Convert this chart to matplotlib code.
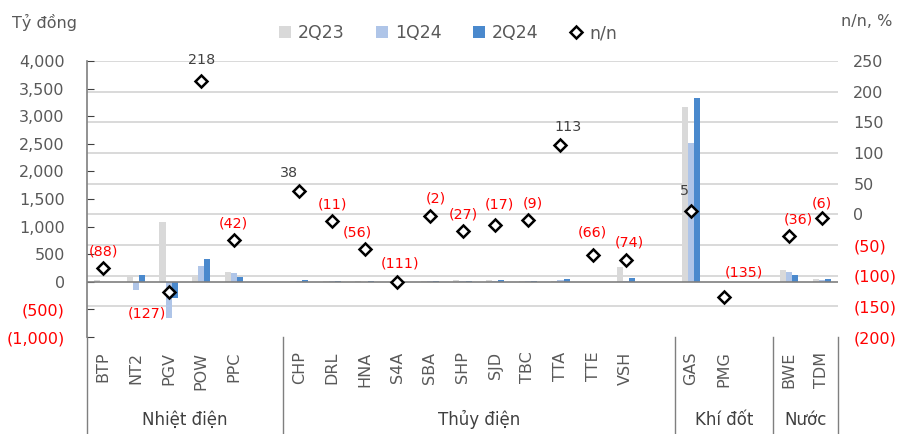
import numpy as np
import matplotlib
matplotlib.use("Agg")
import matplotlib.pyplot as plt
from matplotlib.patches import Patch
from matplotlib.lines import Line2D
from matplotlib.transforms import blended_transform_factory

# ---------------- data ----------------
tickers = ['BTP', 'NT2', 'PGV', 'POW', 'PPC',
           'CHP', 'DRL', 'HNA', 'S4A', 'SBA', 'SHP', 'SJD', 'TBC', 'TTA', 'TTE', 'VSH',
           'GAS', 'PMG',
           'BWE', 'TDM']
groups = ['Nhiệt điện'] * 5 + ['Thủy điện'] * 11 + ['Khí đốt'] * 2 + ['Nước'] * 2
q2_23 = [30, 130, 1090, 125, 170, 20, 10, 15, 5, 20, 30, 30, 15, 20, 5, 270, 3165, 5, 205, 50]
q1_24 = [5, -155, -650, 280, 160, 15, 10, 5, 5, 15, 20, 15, 20, 25, 5, 10, 2520, 5, 175, 38]
q2_24 = [4, 125, -285, 405, 95, 30, 9, 7, -1, 20, 22, 25, 14, 45, 2, 70, 3330, -2, 130, 47]
yoy = [-88, np.nan, -127, 218, -42, 38, -11, -56, -111, -2, -27, -17, -9, 113, -66, -74, 5, -135, -36, -6]
series_names = ['2Q23', '1Q24', '2Q24', 'n/n']
left_ticks = [-1000, -500, 0, 500, 1000, 1500, 2000, 2500, 3000, 3500, 4000]
right_ticks = [-200, -150, -100, -50, 0, 50, 100, 150, 200, 250]

# label offsets (pixels) for n/n data labels
label_off = {'BTP': (0, 17), 'PGV': (-22, -21), 'POW': (0, 21), 'PPC': (-1, 17),
             'CHP': (-10, 18), 'DRL': (1, 17), 'HNA': (-7, 16), 'S4A': (3, 19),
             'SBA': (6, 17), 'SHP': (1, 16), 'SJD': (4, 20), 'TBC': (5, 16),
             'TTA': (8, 18), 'TTE': (-1, 22), 'VSH': (4, 17), 'GAS': (-7, 20),
             'PMG': (20, 25), 'BWE': (9, 17), 'TDM': (0, 15)}

# ---------------- layout: slots with a blank after each group except last ----
pos = []
boundaries = [-0.5]
slot = 0
for i, g in enumerate(groups):
    if i > 0 and g != groups[i - 1]:
        slot += 1  # blank slot belongs to previous group
        boundaries.append(slot - 0.5)
    pos.append(slot)
    slot += 1
nslots = slot
boundaries.append(nslots - 0.5)
pos = np.array(pos, dtype=float)

GRAY = '#595959'
RED = '#FF0000'
C1, C2, C3 = '#D9D9D9', '#AFC5E8', '#4A89CD'
FS = 11.5

plt.rcParams['font.family'] = ['DejaVu Sans']
fig = plt.figure(figsize=(9.07, 4.34), dpi=100)
ax = fig.add_axes([87 / 907, 1 - 337 / 434, (838 - 87) / 907, (337 - 61) / 434])
ax2 = ax.twinx()

ax.set_xlim(-0.5, nslots - 0.5)
ax.set_ylim(-1000, 4000)
ax2.set_ylim(-200, 250)

# gridlines following right axis, drawn behind bars
btr = blended_transform_factory(ax.transAxes, ax2.transData)
for v in right_ticks[1:]:
    ax.plot([0, 1], [v, v], transform=btr, color='#D9D9D9', lw=1.4, zorder=0)

w = 0.187
ax.bar(pos - w, q2_23, w, color=C1, zorder=2)
ax.bar(pos, q1_24, w, color=C2, zorder=2)
ax.bar(pos + w, q2_24, w, color=C3, zorder=2)
ax.axhline(0, color='#7F7F7F', lw=1.2, zorder=3)

ax2.plot(pos, yoy, linestyle='none', marker='D', markersize=6.5,
         markerfacecolor='white', markeredgecolor='black', markeredgewidth=1.8, zorder=5)

for t, x, v in zip(tickers, pos, yoy):
    if np.isnan(v):
        continue
    txt = f'({abs(v):.0f})' if v < 0 else f'{v:.0f}'
    col = RED if v < 0 else '#404040'
    dx, dy = label_off.get(t, (0, 17))
    ax2.annotate(txt, (x, v), xytext=(dx, dy), textcoords='offset pixels',
                 ha='center', va='center', color=col, fontsize=10.3, zorder=6)

# axes styling
for s in ['top', 'right', 'bottom']:
    ax.spines[s].set_visible(False)
    ax2.spines[s].set_visible(False)
ax2.spines['left'].set_visible(False)
ax.spines['left'].set_color('#7F7F7F')
ax.spines['left'].set_linewidth(1.2)

ax.set_yticks(left_ticks)
ax.set_yticklabels([f'({abs(v):,})' if v < 0 else f'{v:,}' for v in left_ticks], fontsize=FS)
for lbl, v in zip(ax.get_yticklabels(), left_ticks):
    lbl.set_color(RED if v < 0 else GRAY)
ax.tick_params(axis='y', direction='in', length=5, color='#404040', pad=16)

ax2.set_yticks(right_ticks)
ax2.set_yticklabels([f'({abs(v)})' if v < 0 else f'{v}' for v in right_ticks], fontsize=FS)
for lbl, v in zip(ax2.get_yticklabels(), right_ticks):
    lbl.set_color(RED if v < 0 else GRAY)
ax2.tick_params(axis='y', length=0, pad=11)

# category labels
ax.set_xticks(pos)
ax.set_xticklabels(tickers, rotation=90, fontsize=FS, color=GRAY, va='top', ha='center')
ax.tick_params(axis='x', length=0, pad=10.5)

# group separators and group labels
sep_tr = blended_transform_factory(ax.transData, ax.transAxes)
for b in boundaries:
    ax.plot([b, b], [0, -0.36], transform=sep_tr, color='#7F7F7F', lw=1.0, clip_on=False)
gnames = []
for g in groups:
    if g not in gnames:
        gnames.append(g)
for gi, g in enumerate(gnames):
    xc = (boundaries[gi] + boundaries[gi + 1]) / 2
    ax.text(xc, -0.30, g, transform=sep_tr, ha='center', va='center',
            fontsize=FS + 0.5, color='#404040')

# titles
fig.text(12 / 907, 1 - 22 / 434, 'Tỷ đồng', fontsize=FS, color=GRAY, ha='left', va='center')
fig.text(892 / 907, 1 - 22 / 434, 'n/n, %', fontsize=FS, color=GRAY, ha='right', va='center')

# legend
handles = [Patch(facecolor=C1, edgecolor='none'),
           Patch(facecolor=C2, edgecolor='none'),
           Patch(facecolor=C3, edgecolor='none'),
           Line2D([], [], linestyle='none', marker='D', markersize=6,
                  markerfacecolor='white', markeredgecolor='black', markeredgewidth=1.8)]
fig.legend(handles, series_names, loc='center', bbox_to_anchor=(448 / 907, 1 - 33 / 434),
           ncol=4, frameon=False, fontsize=12.5, handlelength=0.7, handleheight=0.7,
           handletextpad=0.4, columnspacing=1.8, labelcolor=GRAY)

fig.savefig('out.png', dpi=100)
